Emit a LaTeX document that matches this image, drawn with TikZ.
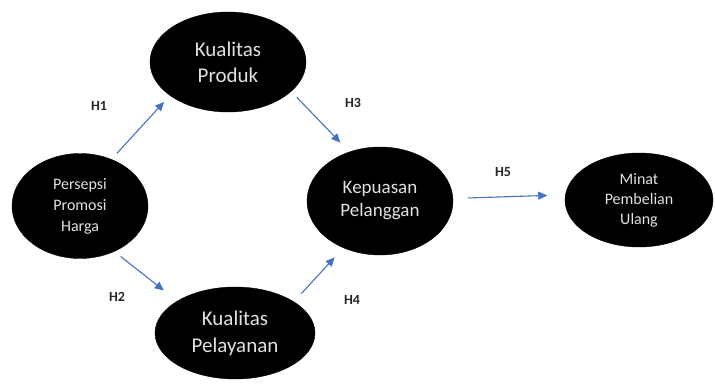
\documentclass[tikz,border=0pt]{standalone}
\usepackage{fontspec}
\setmainfont{Carlito}
\usetikzlibrary{shapes.geometric,arrows.meta}
\definecolor{arrowblue}{RGB}{68,114,196}
\definecolor{txtgray}{RGB}{225,225,225}
\begin{document}
\begin{tikzpicture}[x=1pt,y=-1pt,
  var/.style={ellipse,fill=black,draw=black,text=txtgray,align=center,inner sep=0pt},
  link/.style={draw=arrowblue,line width=1.1pt,-{Triangle[length=9pt,width=8pt]}},
  hyp/.style={font=\bfseries\fontsize{14}{16}\selectfont,text=black!85}]
\useasboundingbox (0,0) rectangle (715,388);
\node[var,minimum width=136pt,minimum height=105pt,font=\fontsize{16}{21}\selectfont] (pp) at (80,206) {Persepsi\\Promosi\\Harga};
\node[var,minimum width=156pt,minimum height=100pt,font=\fontsize{21}{26}\selectfont] (kp) at (228,62) {Kualitas\\Produk};
\node[var,minimum width=160pt,minimum height=92pt,font=\fontsize{21}{27}\selectfont] (kl) at (235,333) {Kualitas\\Pelayanan};
\node[var,minimum width=146pt,minimum height=108pt,font=\fontsize{19}{23}\selectfont] (kep) at (380,201) {Kepuasan\\Pelanggan};
\node[var,minimum width=148pt,minimum height=94pt,font=\fontsize{16}{20}\selectfont] (mn) at (639,200) {Minat\\Pembelian\\Ulang};
\draw[link,shorten <=8pt,shorten >=8.6pt] (pp.56) -- (kp.210);
\draw[link,shorten <=8pt,shorten >=17pt] (pp.-53) -- (kl.151);
\draw[link,shorten <=8pt,shorten >=12.8pt] (kp.-25) -- (kep.122);
\draw[link,shorten <=11pt,shorten >=12.8pt] (kl.28) -- (kep.232);
\draw[link,shorten <=15pt,shorten >=18pt] (kep.2) -- (mn.176);
\node[hyp] (h1) at (99,106) {H1};
\node[hyp] (h2) at (117,297) {H2};
\node[hyp] (h3) at (353,103) {H3};
\node[hyp] (h4) at (352,300) {H4};
\node[hyp] (h5) at (503,172) {H5};
\end{tikzpicture}
\end{document}
